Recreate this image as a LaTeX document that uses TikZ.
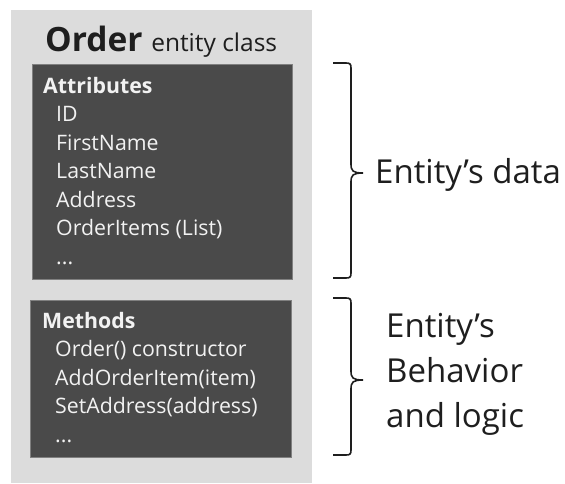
\documentclass[tikz,border=0pt]{standalone}
\usepackage{fontspec}
\setmainfont{Open Sans}
\usetikzlibrary{positioning}

\definecolor{cinzaclaro}{HTML}{DCDCDC}
\definecolor{cinzaescuro}{HTML}{4A4A4A}
\definecolor{borda}{HTML}{808080}
\definecolor{texto}{HTML}{1E1E1E}

% chave: topo, ponta, base
\newcommand{\chave}[3]{%
  \draw[chave] (333,#1) -- (346,#1)
    .. controls (350,#1) and (351,#1+1) .. (351,#1+5)
    -- (351,#2-9)
    .. controls (351,#2-2) and (353,#2) .. (363,#2)
    .. controls (353,#2) and (351,#2+2) .. (351,#2+9)
    -- (351,#3-5)
    .. controls (351,#3-1) and (350,#3) .. (346,#3)
    -- (333,#3);}

\begin{document}
\begin{tikzpicture}[
    x=1pt,y=-1pt,
    fundo/.style={
    fill=cinzaclaro,
    draw=none,
    anchor=north west,
    inner sep=0pt
    },
    caixa/.style={
    fill=cinzaescuro,
    draw=borda,
    line width=0.8pt,
    anchor=north west,
    inner sep=0pt
    },
    lista/.style={
    anchor=base west,
    align=left,
    inner sep=0pt,
    text=white!95!black,
    font=\fontsize{21.3}{28.5}\selectfont
    },
    rotulo/.style={
    anchor=base west,
    align=left,
    inner sep=0pt,
    text=texto,
    font=\fontsize{33}{45}\selectfont
    },
    chave/.style={draw=texto,line width=1.6pt}
    ]
    \useasboundingbox (0,0) rectangle (565,483);

    \node[fundo, minimum width=301pt, minimum height=473pt] (classe) at (11,10) {};

    \node[anchor=base west, inner sep=0pt, text=texto] (titulo) at (45,51)
    {\fontsize{33.5}{34}\selectfont\bfseries Order
     \fontsize{24.5}{25}\selectfont\mdseries entity class};

    % base dos nos de varias linhas = ultima linha
    \node[caixa, minimum width=260pt, minimum height=215pt] (atrib) at (32,64) {};
    \node[lista] (atriblista) at (43,264)
    {\textbf{Attributes}\\
     \hspace*{13pt}ID\\
     \hspace*{13pt}FirstName\\
     \hspace*{13pt}LastName\\
     \hspace*{13pt}Address\\
     \hspace*{13pt}OrderItems (List)\\
     \hspace*{13pt}...};

    \node[caixa, minimum width=261pt, minimum height=157pt] (metod) at (30,300) {};
    \node[lista] (metodlista) at (42,442)
    {\textbf{Methods}\\
     \hspace*{13pt}Order() constructor\\
     \hspace*{13pt}AddOrderItem(item)\\
     \hspace*{13pt}SetAddress(address)\\
     \hspace*{13pt}...};

    \node[rotulo] (dados) at (375,183) {Entity’s data};
    \node[rotulo] (comport) at (386,427) {Entity’s\\Behavior\\and logic};

    \chave{63}{173}{278}
    \chave{298}{380}{455}

\end{tikzpicture}
\end{document}
